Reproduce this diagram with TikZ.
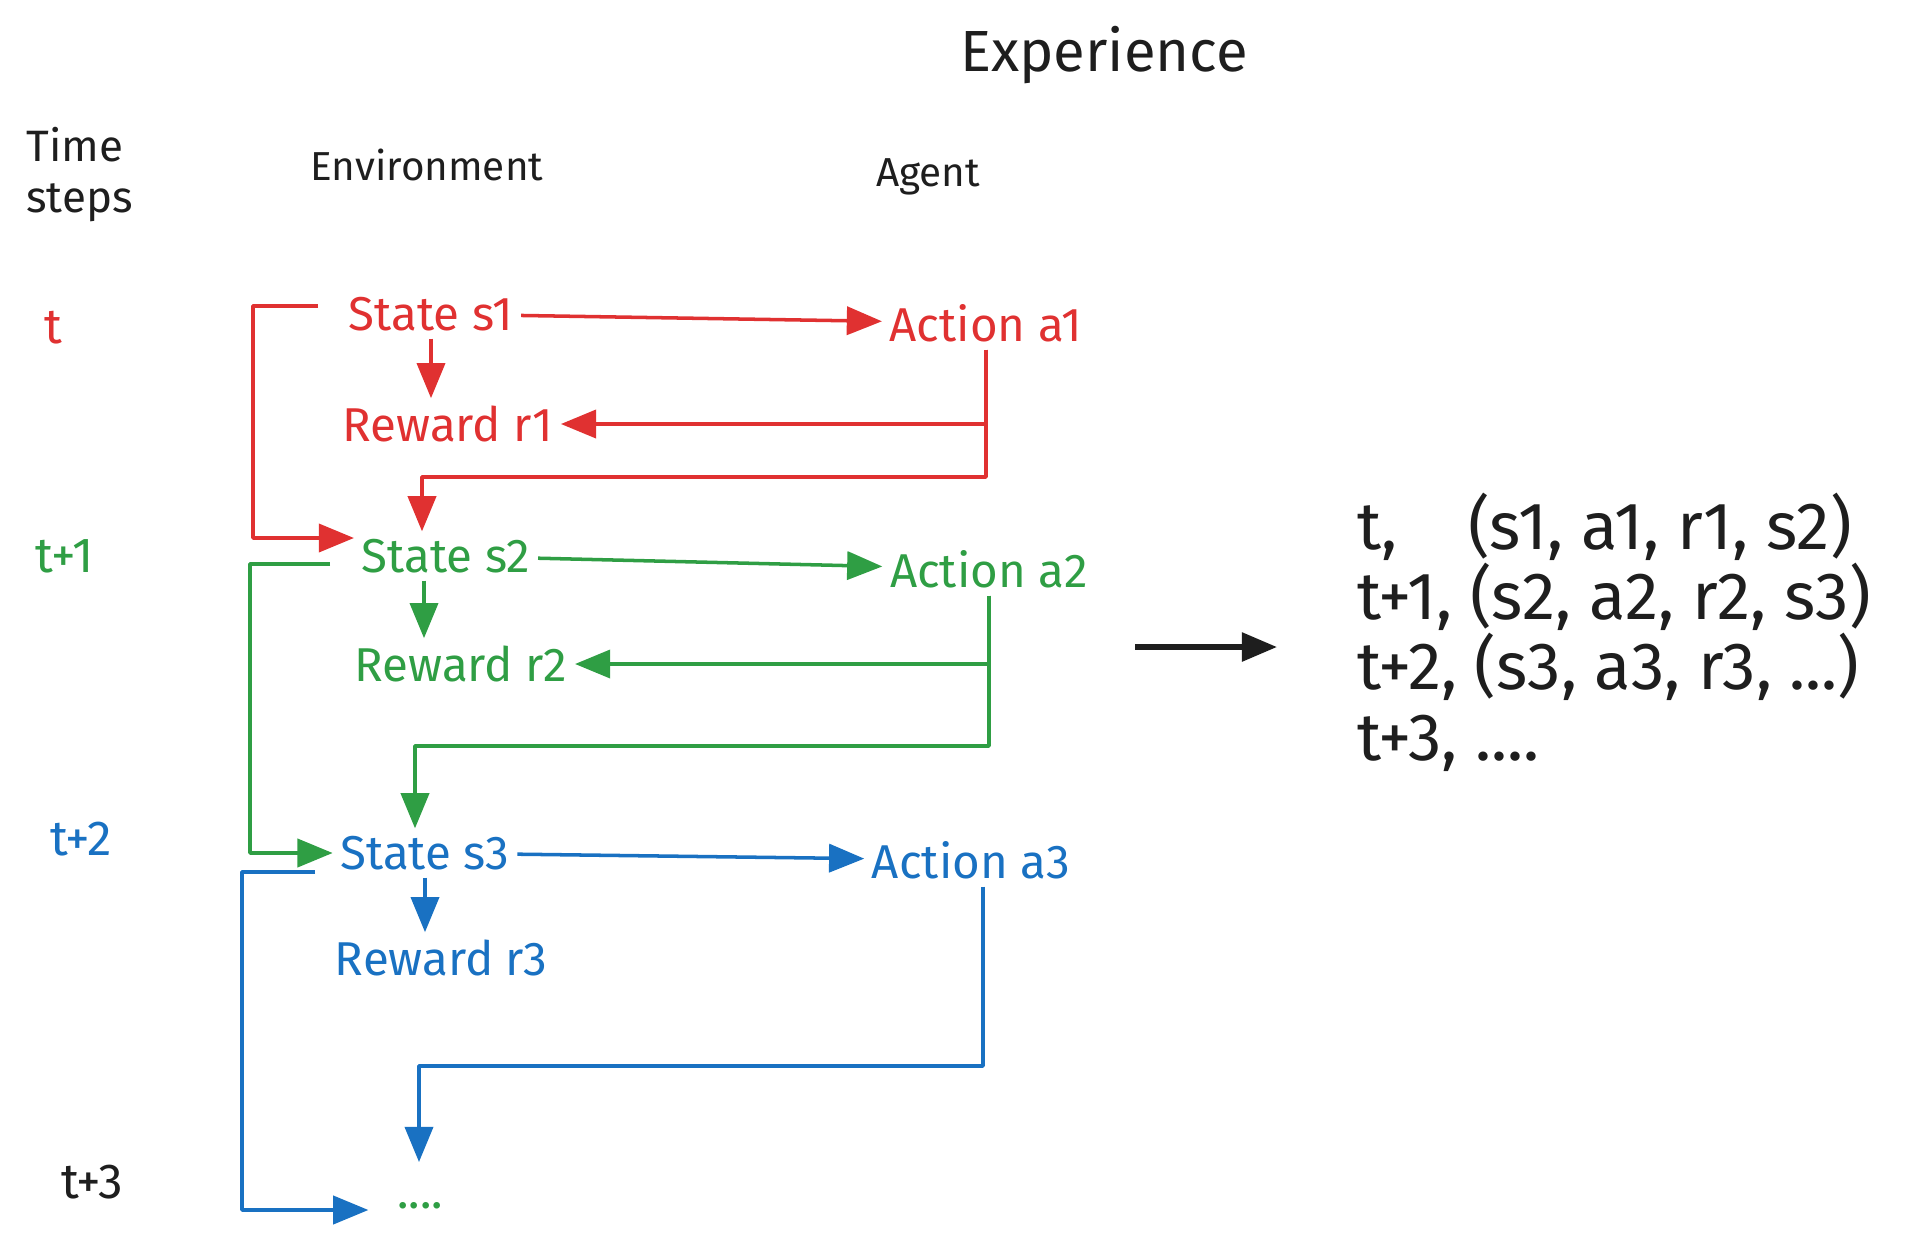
\documentclass[tikz,border=0pt]{standalone}
\usepackage{fontspec}
\setmainfont{Fira Sans}
\usetikzlibrary{arrows.meta,calc}

\definecolor{xred}{HTML}{E03131}
\definecolor{xgreen}{HTML}{2F9E44}
\definecolor{xblue}{HTML}{1971C2}
\definecolor{xblack}{HTML}{1E1E1E}

\begin{document}
\begin{tikzpicture}[x=0.01cm, y=-0.01cm,
  head/.style={font=\fontsize{11.5}{13}\selectfont, text=xblack},
  lbl/.style={font=\fontsize{13.5}{15}\selectfont, inner sep=2pt},
  tlbl/.style={font=\fontsize{14}{16}\selectfont},
  flow/.style={-{Triangle[length=10pt,width=8pt]}, line width=1pt, line join=round}]

  \useasboundingbox (0,0) rectangle (1917,1245);

  % Headings
  \node[head, font=\fontsize{16.5}{18}\selectfont] (exp) at (1104,55) {Experience};
  \node[head, align=left, anchor=west, font=\fontsize{12.5}{14.5}\selectfont] (steps) at (14,175) {Time\\steps};
  \node[head] (env) at (427,165) {Environment};
  \node[head] (agent) at (928,177) {Agent};

  % Time steps
  \node[tlbl, text=xred] (t0) at (53,328) {t};
  \node[tlbl, text=xgreen] (t1) at (65,556) {t+1};
  \node[tlbl, text=xblue] (t2) at (81,839) {t+2};
  \node[tlbl, text=xblack] (t3) at (92,1182) {t+3};

  % Step t
  \node[lbl, text=xred] (s1) at (431,314) {State s1};
  \node[lbl, text=xred] (a1) at (986,323) {Action a1};
  \node[lbl, text=xred] (r1) at (448,424) {Reward r1};

  % Step t+1
  \node[lbl, text=xgreen] (s2) at (446,556) {State s2};
  \node[lbl, text=xgreen] (a2) at (989,569) {Action a2};
  \node[lbl, text=xgreen] (r2) at (461,664) {Reward r2};

  % Step t+2
  \node[lbl, text=xblue] (s3) at (425,853) {State s3};
  \node[lbl, text=xblue] (a3) at (971,860) {Action a3};
  \node[lbl, text=xblue] (r3) at (441,958) {Reward r3};

  % Step t+3
  \node[lbl, text=xgreen] (dots) at (420,1206) {....};

  % Corners of the loops
  \coordinate (k1) at (422,477);
  \coordinate (k2) at (415,746);
  \coordinate (k3) at (419,1066);
  \coordinate (k4) at (419,1162);
  \coordinate (rb1) at (318,306);
  \coordinate (rb2) at (253,538);
  \coordinate (gb1) at (330,564);
  \coordinate (gb2) at (250,853);
  \coordinate (bb1) at (315,872);
  \coordinate (bb2) at (242,1210);

  % Red connectors
  \draw[flow, xred] (s1) -- (a1);
  \draw[flow, xred] (s1.south) -- (s1.south |- r1.north);
  \draw[flow, xred] (a1.south) |- (r1.east);
  \draw[flow, xred] (a1.south) |- (k1) -- (k1 |- s2.north);
  \draw[flow, xred] (rb1) -| (rb2) -- (rb2 -| s2.west);

  % Green connectors
  \draw[flow, xgreen] (s2) -- (a2);
  \draw[flow, xgreen] ($(s2.south)+(-22,0)$) -- ($(s2.south |- r2.north)+(-22,0)$);
  \draw[flow, xgreen] (a2.south) |- (r2.east);
  \draw[flow, xgreen] (a2.south) |- (k2) -- (k2 |- s3.north);
  \draw[flow, xgreen] (gb1) -| (gb2) -- (gb2 -| s3.west);

  % Blue connectors
  \draw[flow, xblue] (s3) -- (a3);
  \draw[flow, xblue] (s3.south) -- (s3.south |- r3.north);
  \draw[flow, xblue] ($(a3.south)+(12,0)$) |- (k3) -- (k4);
  \draw[flow, xblue, shorten >=6pt] (bb1) -| (bb2) -- (bb2 -| dots.west);

  % Experience tuples
  \coordinate (bigtail) at (1135,647);
  \coordinate (bighead) at (1277,647);
  \node[head, align=left, anchor=west, font=\fontsize{19}{20}\selectfont] (tuples) at (1345,632)
    {t,\hspace{1.05em}(s1, a1, r1, s2)\\t+1, (s2, a2, r2, s3)\\t+2, (s3, a3, r3, ...)\\t+3, ....};
  \draw[flow, xblack, line width=1.6pt] (bigtail) -- (bighead);

\end{tikzpicture}
\end{document}
